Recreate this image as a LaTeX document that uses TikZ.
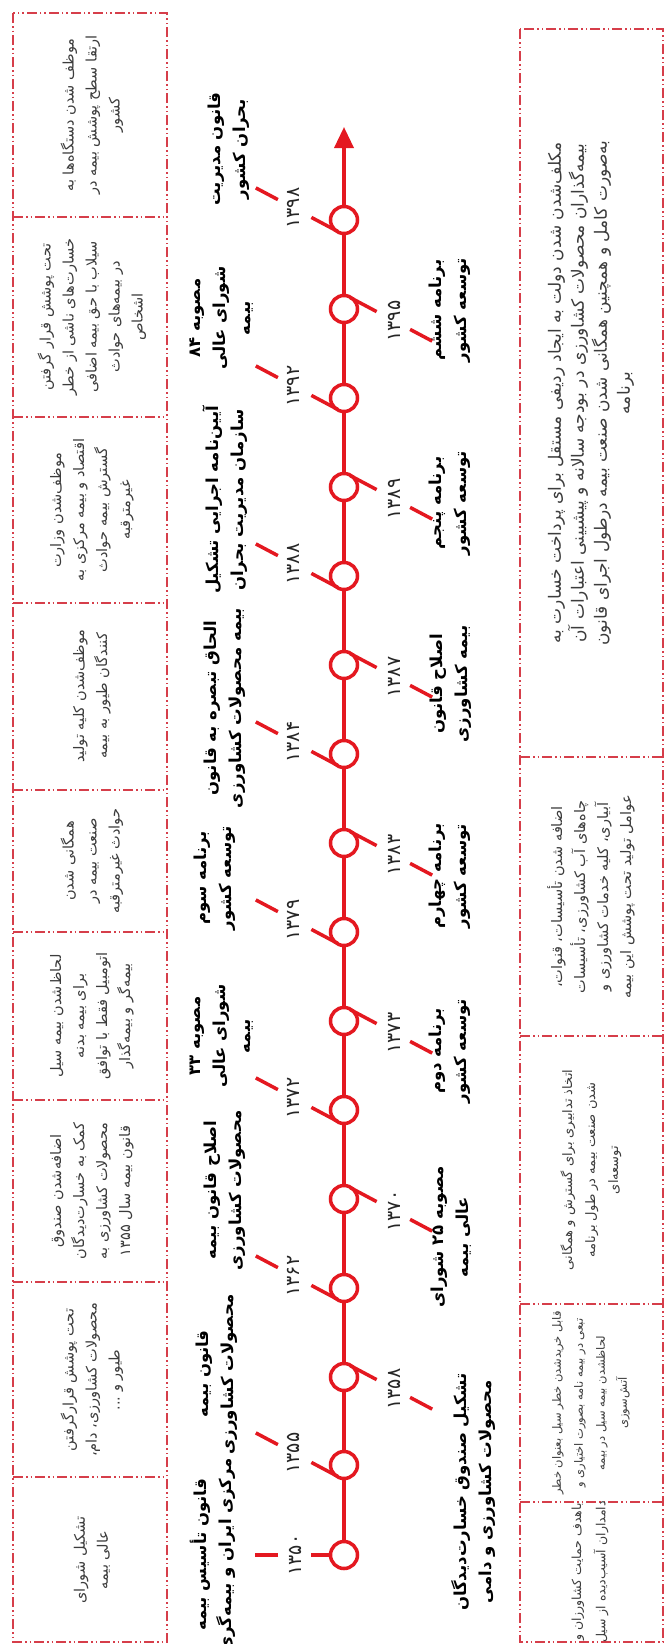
\documentclass[tikz,border=0pt]{standalone}
\usepackage{fontspec}
\usetikzlibrary{arrows.meta}
\TeXXeTstate=1
\newfontfamily\arabicfont[Script=Arabic]{DejaVu Sans}
\newcommand\fa[1]{\beginR #1\endR}
\newcommand\zw{^^^^200c}
\definecolor{tlred}{RGB}{228,24,32}
\definecolor{boxred}{RGB}{214,62,74}
\definecolor{txtgray}{RGB}{60,60,60}
\begin{document}
\begin{tikzpicture}[x=1pt,y=-1pt,
  circ/.style={circle,draw=tlred,line width=3.5pt,fill=white,minimum size=27pt,inner sep=0pt},
  tl/.style={draw=tlred,line width=3.5pt},
  tickline/.style={draw=tlred,line width=3.5pt},
  yr/.style={rotate=90,font=\arabicfont\fontsize{19}{20}\selectfont,text=black!85,inner sep=0pt},
  ev/.style={rotate=90,align=center,font=\arabicfont\bfseries\fontsize{16.5}{25}\selectfont,inner sep=0pt},
  bx/.style={draw=boxred,line width=1.3pt,dash pattern=on 10pt off 3pt on 1.5pt off 3pt on 1.5pt off 3pt},
  bt/.style={rotate=90,align=center,font=\arabicfont\fontsize{14.5}{23}\selectfont,text=txtgray,inner sep=0pt},
]
\useasboundingbox (0,0) rectangle (668,1644);
\fill[white] (0,0) rectangle (668,1644);

% ---- left column boxes
\draw[bx] (13,13) rectangle (167,1642);
\foreach \yy in {217,417,603,790,932,1100,1282,1477}
  \draw[bx] (13,\yy) -- (167,\yy);
\node[bt] (L1) at (92,115) {\fa{موظف شدن دستگاه\zw ها به}\\\fa{ارتقا سطح پوشش بیمه در}\\\fa{کشور}};
\node[bt] (L2) at (92,317) {\fa{تحت پوشش قرار گرفتن}\\\fa{خسارت\zw های ناشی از خطر}\\\fa{سیلاب با حق بیمه اضافی}\\\fa{در بیمه\zw های حوادث}\\\fa{اشخاص}};
\node[bt] (L3) at (92,510) {\fa{موظف\zw شدن وزارت}\\\fa{اقتصاد و بیمه مرکزی به}\\\fa{گسترش بیمه حوادث}\\\fa{غیرمترقبه}};
\node[bt] (L4) at (92,696) {\fa{موظف\zw شدن کلیه تولید}\\\fa{کنندگان طیور به بیمه}};
\node[bt] (L5) at (92,861) {\fa{همگانی شدن}\\\fa{صنعت بیمه در}\\\fa{حوادث غیرمترقبه}};
\node[bt] (L6) at (92,1016) {\fa{لحاظ\zw شدن بیمه سیل}\\\fa{برای بیمه بدنه}\\\fa{اتومبیل فقط با توافق}\\\fa{بیمه\zw گر و بیمه\zw گذار}};
\node[bt] (L7) at (92,1191) {\fa{اضافه\zw شدن صندوق}\\\fa{کمک به خسارت\zw دیدگان}\\\fa{محصولات کشاورزی به}\\\fa{قانون بیمه سال ۱۳۵۵}};
\node[bt] (L8) at (92,1380) {\fa{تحت پوشش قرارگرفتن}\\\fa{محصولات کشاورزی، دام،}\\\fa{طیور و ...}};
\node[bt] (L9) at (92,1560) {\fa{تشکیل شورای}\\\fa{عالی بیمه}};

% ---- right column boxes
\draw[bx] (520,29) rectangle (663,1642);
\foreach \yy in {757,1036,1304,1502}
  \draw[bx] (520,\yy) -- (663,\yy);
\node[bt,font=\arabicfont\fontsize{17}{23}\selectfont] (R1) at (591,393) {\fa{مکلف\zw شدن شدن دولت به ایجاد ردیفی مستقل برای پرداخت خسارت به}\\\fa{بیمه\zw گذاران محصولات کشاورزی در بودجه سالانه و پیشبینی اعتبارات آن}\\\fa{به\zw صورت کامل و همچنین همگانی شدن صنعت بیمه درطول اجرای قانون}\\\fa{برنامه}};
\node[bt,font=\arabicfont\fontsize{14.5}{23}\selectfont] (R2) at (591,897) {\fa{اضافه شدن تأسیسات، قنوات،}\\\fa{چاه\zw های آب کشاورزی، تأسیسات}\\\fa{آبیاری، کلیه خدمات کشاورزی و}\\\fa{عوامل تولید تحت پوشش این بیمه}};
\node[bt,font=\arabicfont\fontsize{13}{23}\selectfont] (R3) at (591,1170) {\fa{اتخاذ تدابیری برای گسترش و همگانی}\\\fa{شدن صنعت بیمه در طول برنامه}\\\fa{توسعه\zw ای}};
\node[bt,font=\arabicfont\fontsize{11.5}{22}\selectfont] (R4) at (591,1403) {\fa{قابل خریدشدن خطر سیل بعنوان خطر}\\\fa{تبعی در بیمه نامه بصورت اختیاری و}\\\fa{لحاظشدن بیمه سیل در بیمه}\\\fa{آتش\zw سوزی}};
\node[bt,font=\arabicfont\fontsize{12.5}{22}\selectfont] (R5a) at (578,1572) {\fa{باهدف حمایت کشاورزان و}};
\node[bt,font=\arabicfont\fontsize{12.5}{22}\selectfont] (R5b) at (601,1572) {\fa{دامداران آسیب\zw دیده از سیل}};

% ---- timeline circles and year ticks
\newcommand\yearL[3]{%
  \node[circ] (c#1) at (344,#2) {};
  \draw[tickline] ([shift={(-6.1,11.5)}]c#1.center) -- ([shift={(-32.6,-2.6)}]c#1.center);
  \node[yr] (y#1) at ([shift={(-50.3,-12)}]c#1.center) {#3};
  \draw[tickline] ([shift={(-66.1,-20.4)}]c#1.center) -- ([shift={(-88.2,-32.1)}]c#1.center);
}
\newcommand\yearR[3]{%
  \node[circ] (c#1) at (344,#2) {};
  \draw[tickline] ([shift={(6.1,-11.5)}]c#1.center) -- ([shift={(32.6,2.6)}]c#1.center);
  \node[yr] (y#1) at ([shift={(50.3,12)}]c#1.center) {#3};
  \draw[tickline] ([shift={(66.1,20.4)}]c#1.center) -- ([shift={(88.2,32.1)}]c#1.center);
}
\node[circ] (c1350) at (344,1555) {};
\draw[tickline] ([shift={(-13.5,0)}]c1350.center) -- ([shift={(-33,0)}]c1350.center);
\node[yr] (y1350) at ([shift={(-49,0)}]c1350.center) {۱۳۵۰};
\draw[tickline] ([shift={(-66,0)}]c1350.center) -- ([shift={(-89,0)}]c1350.center);
\yearL{1355}{1465}{۱۳۵۵}
\yearR{1358}{1377}{۱۳۵۸}
\yearL{1362}{1288}{۱۳۶۲}
\yearR{1370}{1199}{۱۳۷۰}
\yearL{1372}{1110}{۱۳۷۲}
\yearR{1373}{1021}{۱۳۷۳}
\yearL{1379}{932}{۱۳۷۹}
\yearR{1383}{843}{۱۳۸۳}
\yearL{1384}{754}{۱۳۸۴}
\yearR{1387}{665}{۱۳۸۷}
\yearL{1388}{576}{۱۳۸۸}
\yearR{1389}{487}{۱۳۸۹}
\yearL{1392}{398}{۱۳۹۲}
\yearR{1395}{309}{۱۳۹۵}
\yearL{1398}{220}{۱۳۹۸}
\coordinate (tip) at (344,127);
\foreach \a/\b in {1350/1355,1355/1358,1358/1362,1362/1370,1370/1372,1372/1373,1373/1379,1379/1383,1383/1384,1384/1387,1387/1388,1388/1389,1389/1392,1392/1395,1395/1398}
  \draw[tl] (c\a) -- (c\b);
\draw[tl,-{Triangle[width=19pt,length=21pt]}] (c1398) -- (tip);

% ---- event labels, left
\node[ev] (e1398) at (229,149) {\fa{قانون مدیریت}\\\fa{بحران کشور}};
\node[ev] (e1392) at (222,318) {\fa{مصوبه ۸۴}\\\fa{شورای عالی}\\\fa{بیمه}};
\node[ev] (e1388) at (225,500) {\fa{آیین\zw نامه اجرایی تشکیل}\\\fa{سازمان مدیریت بحران}};
\node[ev] (e1384) at (225,708) {\fa{الحاق تبصره به قانون}\\\fa{بیمه محصولات کشاورزی}};
\node[ev] (e1379) at (215,878) {\fa{برنامه سوم}\\\fa{توسعه کشور}};
\node[ev] (e1372) at (222,1036) {\fa{مصوبه ۳۳}\\\fa{شورای عالی}\\\fa{بیمه}};
\node[ev] (e1362) at (225,1190) {\fa{اصلاح قانون بیمه}\\\fa{محصولات کشاورزی}};
\node[ev] (e1355) at (217,1374) {\fa{قانون بیمه}\\\fa{محصولات کشاورزی}};
\node[ev] (e1350) at (213,1555) {\fa{قانون تأسیس بیمه}\\\fa{مرکزی ایران و بیمه\zw گری}};
% ---- event labels, right
\node[ev] (e1395) at (450,310) {\fa{برنامه ششم}\\\fa{توسعه کشور}};
\node[ev] (e1389) at (450,503) {\fa{برنامه پنجم}\\\fa{توسعه کشور}};
\node[ev] (e1387) at (451,684) {\fa{اصلاح قانون}\\\fa{بیمه کشاورزی}};
\node[ev] (e1383) at (450,876) {\fa{برنامه چهارم}\\\fa{توسعه کشور}};
\node[ev] (e1373) at (450,1051) {\fa{برنامه دوم}\\\fa{توسعه کشور}};
\node[ev] (e1370) at (451,1237) {\fa{مصوبه ۲۵ شورای}\\\fa{عالی بیمه}};
\node[ev] (e1358) at (474,1492) {\fa{تشکیل صندوق خسارت\zw دیدگان}\\\fa{محصولات کشاورزی و دامی}};
\end{tikzpicture}
\end{document}
